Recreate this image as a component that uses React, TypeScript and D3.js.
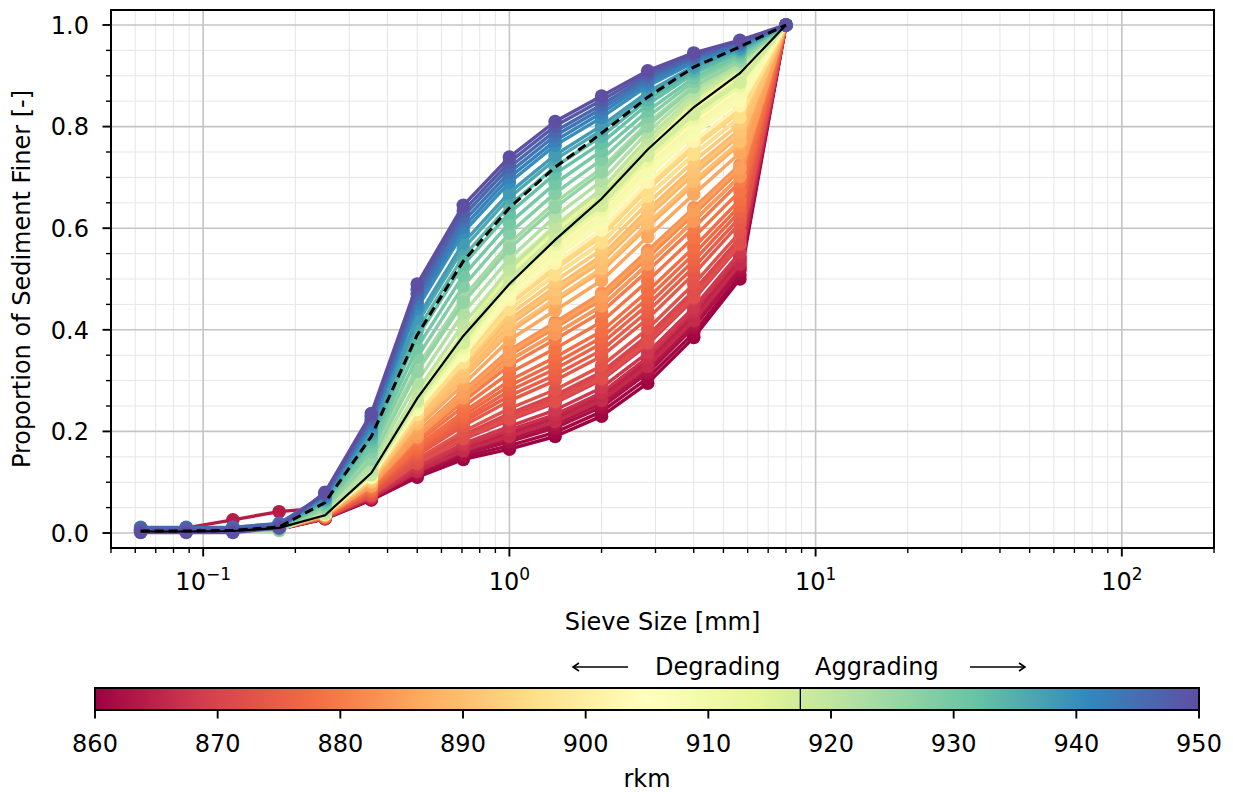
import React from 'react';
import * as d3 from 'd3';

// ---------------- data ----------------
const SIEVE_MM = [0.0625, 0.088, 0.125, 0.177, 0.25, 0.354, 0.5, 0.707, 1, 1.41, 2, 2.83, 4, 5.66, 8];

// degrading reach, even rkm
const RKM_DEGRADING = [860, 862, 864, 866, 868, 870, 872, 874, 876, 878, 880, 882, 884, 886, 888, 890, 892, 894, 896, 898, 900, 902, 904, 906, 908, 910, 912, 914, 916];
const FINER_DEGRADING = [
  [0.002, 0.003, 0.004, 0.007, 0.028, 0.065, 0.110, 0.145, 0.165, 0.190, 0.230, 0.295, 0.385, 0.500, 1],
  [0.003, 0.004, 0.005, 0.008, 0.029, 0.067, 0.117, 0.155, 0.180, 0.207, 0.248, 0.315, 0.405, 0.517, 1],
  [0.005, 0.010, 0.026, 0.042, 0.050, 0.070, 0.126, 0.169, 0.200, 0.231, 0.274, 0.342, 0.431, 0.541, 1],
  [0.002, 0.003, 0.004, 0.008, 0.029, 0.069, 0.121, 0.162, 0.190, 0.219, 0.261, 0.328, 0.418, 0.529, 1],
  [0.003, 0.004, 0.005, 0.009, 0.030, 0.072, 0.130, 0.176, 0.210, 0.242, 0.286, 0.355, 0.444, 0.552, 1],
  [0.002, 0.003, 0.005, 0.008, 0.030, 0.076, 0.142, 0.193, 0.235, 0.271, 0.317, 0.389, 0.477, 0.581, 1],
  [0.003, 0.004, 0.005, 0.009, 0.030, 0.074, 0.137, 0.186, 0.225, 0.259, 0.304, 0.375, 0.464, 0.569, 1],
  [0.002, 0.003, 0.004, 0.008, 0.031, 0.080, 0.153, 0.211, 0.260, 0.300, 0.348, 0.422, 0.510, 0.610, 1],
  [0.003, 0.004, 0.005, 0.009, 0.032, 0.083, 0.162, 0.224, 0.280, 0.323, 0.373, 0.449, 0.536, 0.633, 1],
  [0.002, 0.003, 0.005, 0.008, 0.033, 0.086, 0.171, 0.238, 0.300, 0.346, 0.397, 0.476, 0.562, 0.656, 1],
  [0.003, 0.004, 0.005, 0.010, 0.034, 0.091, 0.184, 0.259, 0.330, 0.381, 0.435, 0.516, 0.601, 0.691, 1],
  [0.002, 0.003, 0.005, 0.009, 0.034, 0.094, 0.193, 0.273, 0.350, 0.404, 0.459, 0.542, 0.627, 0.714, 1],
  [0.003, 0.004, 0.005, 0.009, 0.034, 0.092, 0.189, 0.266, 0.340, 0.392, 0.447, 0.529, 0.614, 0.702, 1],
  [0.002, 0.003, 0.004, 0.008, 0.035, 0.098, 0.207, 0.293, 0.380, 0.438, 0.497, 0.583, 0.667, 0.748, 1],
  [0.003, 0.004, 0.005, 0.009, 0.036, 0.103, 0.220, 0.314, 0.410, 0.473, 0.534, 0.623, 0.706, 0.783, 1],
  [0.002, 0.003, 0.005, 0.009, 0.036, 0.101, 0.216, 0.307, 0.400, 0.461, 0.521, 0.609, 0.693, 0.771, 1],
  [0.003, 0.004, 0.005, 0.010, 0.037, 0.106, 0.229, 0.328, 0.430, 0.496, 0.558, 0.649, 0.732, 0.806, 1],
  [0.002, 0.003, 0.004, 0.009, 0.038, 0.109, 0.238, 0.342, 0.450, 0.519, 0.583, 0.676, 0.758, 0.829, 1],
  [0.003, 0.004, 0.005, 0.009, 0.037, 0.108, 0.234, 0.335, 0.440, 0.508, 0.571, 0.663, 0.745, 0.818, 1],
  [0.002, 0.003, 0.005, 0.010, 0.038, 0.112, 0.247, 0.355, 0.470, 0.542, 0.608, 0.703, 0.784, 0.852, 1],
  [0.003, 0.004, 0.005, 0.010, 0.039, 0.114, 0.252, 0.362, 0.480, 0.554, 0.620, 0.716, 0.797, 0.864, 1],
  [0.002, 0.003, 0.004, 0.009, 0.038, 0.111, 0.243, 0.349, 0.460, 0.531, 0.596, 0.690, 0.771, 0.841, 1],
  [0.003, 0.004, 0.005, 0.010, 0.039, 0.115, 0.256, 0.369, 0.490, 0.565, 0.633, 0.730, 0.810, 0.875, 1],
  [0.002, 0.003, 0.005, 0.010, 0.039, 0.117, 0.261, 0.376, 0.500, 0.577, 0.645, 0.743, 0.824, 0.887, 1],
  [0.003, 0.004, 0.005, 0.010, 0.038, 0.111, 0.245, 0.352, 0.470, 0.545, 0.612, 0.708, 0.788, 0.856, 1],
  [0.002, 0.003, 0.004, 0.009, 0.040, 0.118, 0.266, 0.383, 0.510, 0.589, 0.658, 0.757, 0.837, 0.899, 1],
  [0.003, 0.004, 0.005, 0.010, 0.039, 0.114, 0.254, 0.366, 0.490, 0.568, 0.636, 0.734, 0.815, 0.880, 1],
  [0.002, 0.003, 0.005, 0.010, 0.040, 0.120, 0.270, 0.390, 0.520, 0.600, 0.670, 0.770, 0.850, 0.910, 1],
  [0.003, 0.004, 0.005, 0.009, 0.040, 0.116, 0.259, 0.374, 0.500, 0.580, 0.650, 0.748, 0.828, 0.892, 1],
];

// degrading reach, odd rkm
const RKM_DEGRADING_ODD = [861, 863, 865, 867, 869, 871, 873, 875, 877, 879, 881, 883, 885, 887, 889, 891, 893, 895, 897, 899, 901, 903, 905, 907, 909, 911, 913, 915, 917];
const FINER_DEGRADING_ODD = [
  [0.002, 0.003, 0.004, 0.008, 0.028, 0.066, 0.113, 0.150, 0.172, 0.198, 0.239, 0.305, 0.394, 0.508, 1],
  [0.003, 0.004, 0.005, 0.009, 0.029, 0.068, 0.119, 0.159, 0.185, 0.213, 0.255, 0.322, 0.411, 0.523, 1],
  [0.002, 0.003, 0.004, 0.008, 0.029, 0.070, 0.124, 0.166, 0.195, 0.225, 0.267, 0.335, 0.425, 0.535, 1],
  [0.003, 0.004, 0.005, 0.009, 0.029, 0.071, 0.127, 0.171, 0.203, 0.233, 0.276, 0.346, 0.436, 0.545, 1],
  [0.002, 0.003, 0.004, 0.008, 0.030, 0.074, 0.136, 0.184, 0.222, 0.256, 0.301, 0.371, 0.460, 0.566, 1],
  [0.003, 0.004, 0.005, 0.009, 0.030, 0.075, 0.139, 0.190, 0.230, 0.265, 0.311, 0.382, 0.470, 0.575, 1],
  [0.002, 0.003, 0.004, 0.008, 0.031, 0.077, 0.146, 0.200, 0.245, 0.282, 0.329, 0.402, 0.490, 0.592, 1],
  [0.003, 0.004, 0.005, 0.009, 0.032, 0.081, 0.157, 0.218, 0.270, 0.311, 0.360, 0.436, 0.523, 0.621, 1],
  [0.002, 0.003, 0.004, 0.008, 0.032, 0.084, 0.166, 0.231, 0.290, 0.334, 0.385, 0.462, 0.549, 0.644, 1],
  [0.003, 0.004, 0.005, 0.009, 0.033, 0.088, 0.178, 0.249, 0.315, 0.363, 0.416, 0.496, 0.582, 0.673, 1],
  [0.002, 0.003, 0.004, 0.008, 0.034, 0.092, 0.189, 0.266, 0.340, 0.392, 0.447, 0.529, 0.614, 0.702, 1],
  [0.003, 0.004, 0.005, 0.009, 0.035, 0.095, 0.198, 0.280, 0.360, 0.415, 0.472, 0.556, 0.640, 0.725, 1],
  [0.002, 0.003, 0.004, 0.008, 0.034, 0.094, 0.196, 0.276, 0.355, 0.409, 0.465, 0.549, 0.634, 0.719, 1],
  [0.003, 0.004, 0.005, 0.009, 0.036, 0.101, 0.214, 0.304, 0.395, 0.456, 0.515, 0.603, 0.686, 0.766, 1],
  [0.002, 0.003, 0.004, 0.008, 0.037, 0.104, 0.225, 0.321, 0.420, 0.484, 0.546, 0.636, 0.719, 0.794, 1],
  [0.003, 0.004, 0.005, 0.009, 0.036, 0.104, 0.223, 0.317, 0.415, 0.479, 0.540, 0.629, 0.712, 0.789, 1],
  [0.002, 0.003, 0.004, 0.008, 0.037, 0.108, 0.234, 0.335, 0.440, 0.508, 0.571, 0.663, 0.745, 0.818, 1],
  [0.003, 0.004, 0.005, 0.009, 0.038, 0.110, 0.241, 0.345, 0.455, 0.525, 0.589, 0.683, 0.765, 0.835, 1],
  [0.002, 0.003, 0.004, 0.008, 0.038, 0.111, 0.243, 0.349, 0.460, 0.531, 0.596, 0.690, 0.771, 0.841, 1],
  [0.003, 0.004, 0.005, 0.009, 0.038, 0.113, 0.250, 0.359, 0.475, 0.548, 0.614, 0.710, 0.791, 0.858, 1],
  [0.002, 0.003, 0.004, 0.008, 0.039, 0.115, 0.254, 0.366, 0.485, 0.559, 0.626, 0.723, 0.804, 0.869, 1],
  [0.003, 0.004, 0.005, 0.009, 0.038, 0.112, 0.247, 0.355, 0.470, 0.542, 0.608, 0.703, 0.784, 0.852, 1],
  [0.002, 0.003, 0.004, 0.008, 0.039, 0.116, 0.259, 0.373, 0.495, 0.571, 0.639, 0.737, 0.817, 0.881, 1],
  [0.003, 0.004, 0.005, 0.009, 0.039, 0.118, 0.263, 0.380, 0.505, 0.583, 0.652, 0.750, 0.830, 0.893, 1],
  [0.002, 0.003, 0.004, 0.008, 0.039, 0.114, 0.252, 0.362, 0.480, 0.554, 0.620, 0.716, 0.797, 0.864, 1],
  [0.003, 0.004, 0.005, 0.009, 0.040, 0.119, 0.268, 0.387, 0.515, 0.594, 0.664, 0.763, 0.843, 0.904, 1],
  [0.002, 0.003, 0.004, 0.008, 0.039, 0.117, 0.262, 0.378, 0.505, 0.581, 0.650, 0.748, 0.828, 0.891, 1],
  [0.003, 0.004, 0.005, 0.009, 0.040, 0.121, 0.272, 0.393, 0.525, 0.606, 0.676, 0.777, 0.856, 0.916, 1],
  [0.002, 0.003, 0.004, 0.008, 0.039, 0.117, 0.261, 0.376, 0.500, 0.577, 0.645, 0.743, 0.824, 0.887, 1],
];

// aggrading reach
const RKM_AGGRADING = [918, 920, 922, 924, 926, 928, 930, 932, 934, 936, 938, 940, 942, 944, 946, 948, 950];
const FINER_AGGRADING = [
  [0.004, 0.004, 0.005, 0.006, 0.038, 0.115, 0.260, 0.390, 0.500, 0.585, 0.660, 0.765, 0.855, 0.915, 1],
  [0.003, 0.004, 0.004, 0.005, 0.041, 0.125, 0.279, 0.411, 0.520, 0.604, 0.677, 0.777, 0.862, 0.920, 1],
  [0.004, 0.005, 0.005, 0.006, 0.045, 0.135, 0.298, 0.433, 0.540, 0.623, 0.693, 0.789, 0.870, 0.924, 1],
  [0.005, 0.005, 0.006, 0.007, 0.050, 0.150, 0.327, 0.464, 0.570, 0.651, 0.718, 0.807, 0.881, 0.931, 1],
  [0.004, 0.004, 0.005, 0.005, 0.049, 0.145, 0.318, 0.454, 0.560, 0.641, 0.710, 0.801, 0.878, 0.929, 1],
  [0.005, 0.006, 0.006, 0.008, 0.054, 0.160, 0.346, 0.486, 0.590, 0.669, 0.735, 0.819, 0.889, 0.936, 1],
  [0.006, 0.006, 0.007, 0.009, 0.057, 0.170, 0.365, 0.507, 0.610, 0.688, 0.752, 0.831, 0.896, 0.940, 1],
  [0.005, 0.006, 0.006, 0.008, 0.061, 0.180, 0.385, 0.528, 0.630, 0.707, 0.768, 0.844, 0.904, 0.945, 1],
  [0.007, 0.007, 0.008, 0.011, 0.063, 0.187, 0.399, 0.544, 0.645, 0.721, 0.781, 0.853, 0.909, 0.948, 1],
  [0.008, 0.008, 0.008, 0.012, 0.066, 0.195, 0.413, 0.560, 0.660, 0.735, 0.793, 0.862, 0.915, 0.952, 1],
  [0.007, 0.007, 0.008, 0.011, 0.068, 0.200, 0.423, 0.571, 0.670, 0.744, 0.802, 0.868, 0.919, 0.954, 1],
  [0.009, 0.009, 0.010, 0.015, 0.071, 0.210, 0.442, 0.592, 0.690, 0.763, 0.818, 0.880, 0.926, 0.959, 1],
  [0.010, 0.010, 0.010, 0.017, 0.073, 0.215, 0.452, 0.602, 0.700, 0.772, 0.827, 0.886, 0.930, 0.961, 1],
  [0.011, 0.011, 0.011, 0.019, 0.075, 0.220, 0.461, 0.613, 0.710, 0.782, 0.835, 0.892, 0.934, 0.963, 1],
  [0.010, 0.010, 0.011, 0.018, 0.076, 0.225, 0.471, 0.624, 0.720, 0.791, 0.843, 0.898, 0.937, 0.965, 1],
  [0.006, 0.006, 0.007, 0.012, 0.078, 0.230, 0.480, 0.634, 0.730, 0.801, 0.852, 0.904, 0.941, 0.968, 1],
  [0.001, 0.001, 0.001, 0.010, 0.080, 0.235, 0.490, 0.645, 0.740, 0.810, 0.860, 0.910, 0.945, 0.970, 1],
];

const SOLID_LINE = [0.003, 0.003, 0.004, 0.010, 0.035, 0.118, 0.265, 0.388, 0.490, 0.577, 0.658, 0.755, 0.838, 0.905, 1.0];
const DASHED_LINE = [0.004, 0.004, 0.005, 0.012, 0.060, 0.190, 0.390, 0.535, 0.640, 0.720, 0.787, 0.858, 0.917, 0.957, 1.0];

const Y_TICKS = [0, 0.2, 0.4, 0.6, 0.8, 1.0];
const X_MAJOR = [0.1, 1, 10, 100];
const X_EXP = ['\u22121', '0', '1', '2'];
const CBAR_TICKS = [860, 870, 880, 890, 900, 910, 920, 930, 940, 950];
const RKM_MIN = 860;
const RKM_MAX = 950;
const RKM_SPLIT = 917.5;
const SPECTRAL = ['#9e0142', '#d53e4f', '#f46d43', '#fdae61', '#fee08b', '#ffffbf', '#e6f598', '#abdda4', '#66c2a5', '#3288bd', '#5e4fa2'];

const FONT = 'DejaVu Sans, Liberation Sans, sans-serif';

export default function App() {
  const W = 1233, H = 792;
  const L = 111, R = 1214, T = 10, B = 548;
  const x = d3.scaleLog().domain([0.05, 200]).range([L, R]);
  const y = d3.scaleLinear().domain([-0.0295, 1.0295]).range([B, T]);
  const cmap = d3.scaleLinear<string>()
    .domain(SPECTRAL.map((_, i) => i / (SPECTRAL.length - 1)))
    .range(SPECTRAL)
    .interpolate(d3.interpolateRgb);
  const norm = d3.scaleLinear().domain([RKM_MIN, RKM_MAX]).range([0, 1]).clamp(true);
  const line = d3.line<number>().x((_, i) => x(SIEVE_MM[i])).y(d => y(d));

  const curves = [
    ...RKM_DEGRADING.map((r, i) => ({ rkm: r, vals: FINER_DEGRADING[i] })),
    ...RKM_DEGRADING_ODD.map((r, i) => ({ rkm: r, vals: FINER_DEGRADING_ODD[i] })),
    ...RKM_AGGRADING.map((r, i) => ({ rkm: r, vals: FINER_AGGRADING[i] })),
  ].sort((a, b) => a.rkm - b.rkm);

  const xMinor: number[] = [];
  [0.01, 0.1, 1, 10, 100].forEach(d => {
    for (let k = 2; k <= 9; k++) {
      const v = k * d;
      if (v >= 0.05 - 1e-9 && v <= 200 + 1e-9) xMinor.push(v);
    }
  });
  const yMinor = d3.range(0, 21).map(i => i * 0.05).filter(v => Math.abs(v * 5 - Math.round(v * 5)) > 1e-6);

  const cx = d3.scaleLinear().domain([RKM_MIN, RKM_MAX]).range([95, 1199]);
  const cbTop = 688, cbBot = 710;

  return (
    <svg width={W} height={H} style={{ position: 'absolute', left: 0, top: 0, display: 'block', background: '#fff' }}
      fontFamily={FONT}>
      <defs>
        <clipPath id="plotclip"><rect x={L} y={T} width={R - L} height={B - T} /></clipPath>
        <linearGradient id="cbgrad" x1="0" x2="1" y1="0" y2="0">
          {SPECTRAL.map((c, i) => <stop key={i} offset={i / (SPECTRAL.length - 1)} stopColor={c} />)}
        </linearGradient>
      </defs>
      <rect x={0} y={0} width={W} height={H} fill="#fff" />

      {/* minor grid */}
      <g stroke="#e6e6e6" strokeWidth={1}>
        {xMinor.map((v, i) => <line key={'xm' + i} x1={x(v)} x2={x(v)} y1={T} y2={B} />)}
        {yMinor.map((v, i) => <line key={'ym' + i} x1={L} x2={R} y1={y(v)} y2={y(v)} />)}
      </g>
      {/* major grid */}
      <g stroke="#c4c4c4" strokeWidth={1.6}>
        {X_MAJOR.map((v, i) => <line key={'xg' + i} x1={x(v)} x2={x(v)} y1={T} y2={B} />)}
        {Y_TICKS.map((v, i) => <line key={'yg' + i} x1={L} x2={R} y1={y(v)} y2={y(v)} />)}
      </g>

      {/* curves */}
      <g clipPath="url(#plotclip)">
        {curves.map(c => {
          const col = cmap(norm(c.rkm));
          return (
            <g key={c.rkm}>
              <path d={line(c.vals) || ''} fill="none" stroke={col} strokeWidth={3.4} strokeLinejoin="round" />
              {c.vals.map((v, j) => <circle key={j} cx={x(SIEVE_MM[j])} cy={y(v)} r={6.8} fill={col} />)}
            </g>
          );
        })}
        <path d={line(SOLID_LINE) || ''} fill="none" stroke="#000" strokeWidth={2.2} />
        <path d={line(DASHED_LINE) || ''} fill="none" stroke="#000" strokeWidth={3} strokeDasharray="9,5" />
      </g>

      {/* frame */}
      <rect x={L} y={T} width={R - L} height={B - T} fill="none" stroke="#000" strokeWidth={2} />

      {/* ticks */}
      <g stroke="#000">
        {Y_TICKS.map((v, i) => <line key={'yt' + i} x1={L - 8.5} x2={L} y1={y(v)} y2={y(v)} strokeWidth={1.9} />)}
        {yMinor.map((v, i) => <line key={'ymt' + i} x1={L - 5} x2={L} y1={y(v)} y2={y(v)} strokeWidth={1.4} />)}
        {X_MAJOR.map((v, i) => <line key={'xt' + i} x1={x(v)} x2={x(v)} y1={B} y2={B + 8.5} strokeWidth={1.9} />)}
        {xMinor.map((v, i) => <line key={'xmt' + i} x1={x(v)} x2={x(v)} y1={B} y2={B + 5} strokeWidth={1.4} />)}
      </g>
      <g fontSize={24} fill="#000">
        {Y_TICKS.map((v, i) => (
          <text key={'yl' + i} x={89} y={y(v) + 8.7} textAnchor="end">{d3.format('.1f')(v)}</text>
        ))}
        {X_MAJOR.map((v, i) => (
          <text key={'xl' + i} x={x(v)} y={590} textAnchor="middle">
            <tspan>10</tspan>
            <tspan fontSize={17} dy={-10}>{X_EXP[i]}</tspan>
          </text>
        ))}
        <text x={(L + R) / 2} y={630} textAnchor="middle">Sieve Size [mm]</text>
        <text transform={`translate(30,${(T + B) / 2}) rotate(-90)`} textAnchor="middle">Proportion of Sediment Finer [-]</text>
      </g>

      {/* degrading / aggrading annotation */}
      <g stroke="#000" strokeWidth={1.6} fill="none">
        <line x1={573} x2={628} y1={667} y2={667} />
        <path d="M579,663 L573,667 L579,671" />
        <line x1={970} x2={1025} y1={667} y2={667} />
        <path d="M1019,663 L1025,667 L1019,671" />
      </g>
      <g fontSize={24} fill="#000">
        <text x={655} y={675}>Degrading</text>
        <text x={815} y={675}>Aggrading</text>
      </g>

      {/* colorbar */}
      <rect x={cx(RKM_MIN)} y={cbTop} width={cx(RKM_MAX) - cx(RKM_MIN)} height={cbBot - cbTop} fill="url(#cbgrad)" />
      <line x1={cx(RKM_SPLIT)} x2={cx(RKM_SPLIT)} y1={cbTop} y2={cbBot} stroke="#000" strokeWidth={1.3} />
      <rect x={cx(RKM_MIN)} y={cbTop} width={cx(RKM_MAX) - cx(RKM_MIN)} height={cbBot - cbTop} fill="none" stroke="#000" strokeWidth={2} />
      <g stroke="#000" strokeWidth={1.9}>
        {CBAR_TICKS.map(t => <line key={'ct' + t} x1={cx(t)} x2={cx(t)} y1={cbBot} y2={cbBot + 8.5} />)}
      </g>
      <g fontSize={24} fill="#000">
        {CBAR_TICKS.map(t => <text key={'cl' + t} x={cx(t)} y={752} textAnchor="middle">{t}</text>)}
        <text x={(cx(RKM_MIN) + cx(RKM_MAX)) / 2} y={787} textAnchor="middle">rkm</text>
      </g>
    </svg>
  );
}
